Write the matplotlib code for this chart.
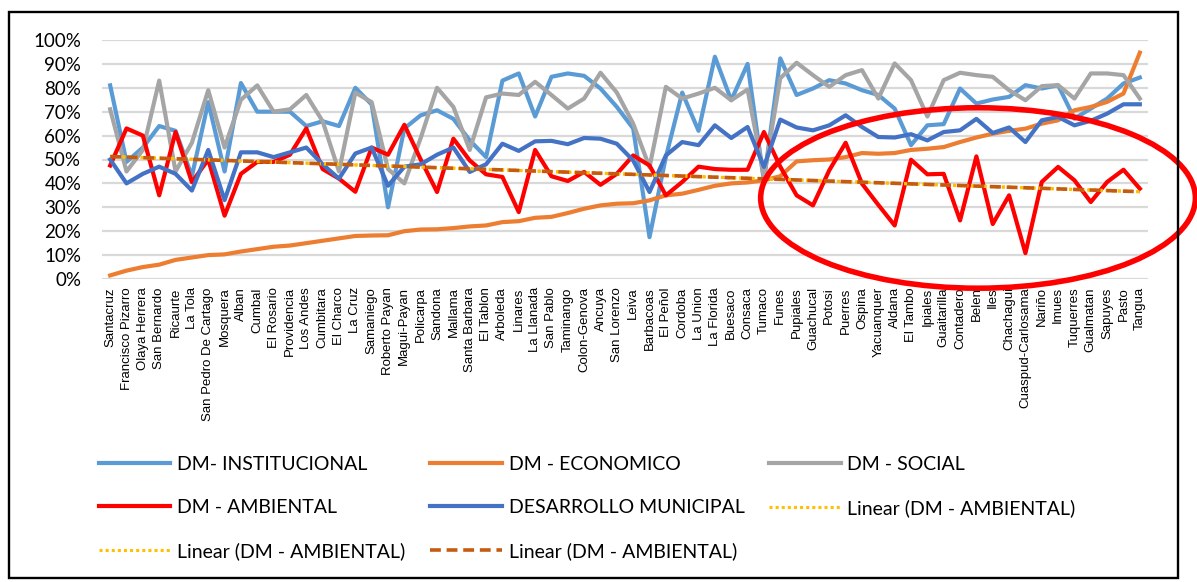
import numpy as np
import matplotlib.pyplot as plt
from matplotlib.patches import Ellipse, Rectangle
from matplotlib.ticker import PercentFormatter

municipios = ["Santacruz", "Francisco Pizarro", "Olaya Herrera", "San Bernardo", "Ricaurte",
              "La Tola", "San Pedro De Cartago", "Mosquera", "Alban", "Cumbal", "El Rosario",
              "Providencia", "Los Andes", "Cumbitara", "El Charco", "La Cruz", "Samaniego",
              "Roberto Payan", "Magui-Payan", "Policarpa", "Sandona", "Mallama", "Santa Barbara",
              "El Tablon", "Arboleda", "Linares", "La Llanada", "San Pablo", "Taminango",
              "Colon-Genova", "Ancuya", "San Lorenzo", "Leiva", "Barbacoas", "El Peñol",
              "Cordoba", "La Union", "La Florida", "Buesaco", "Consaca", "Tumaco", "Funes",
              "Pupiales", "Guachucal", "Potosi", "Puerres", "Ospina", "Yacuanquer", "Aldana",
              "El Tambo", "Ipiales", "Guaitarilla", "Contadero", "Belen", "Iles", "Chachagui",
              "Cuaspud-Carlosama", "Nariño", "Imues", "Tuquerres", "Gualmatan", "Sapuyes",
              "Pasto", "Tangua"]

# porcentajes por municipio
dm_institucional = [81, 49, 55, 64, 62, 43, 74, 45, 82, 70, 70, 70, 64, 66, 64, 80,
                    73, 30, 63, 68.5, 70.6, 67, 58, 51, 83, 86, 68, 84.6, 86, 85, 79.7, 72,
                    63, 17.5, 51, 78, 62, 93, 74.8, 90, 41, 92.3, 77, 79.7, 83.2, 81.8, 79, 77,
                    71.3, 56, 64.3, 64.8, 79.7, 73.4, 75.1, 76.2, 81.1, 79.7, 81.1, 67.1, 71.3, 75.5, 81.8, 84.3]
dm_economico = [1.5, 3.5, 5, 6, 8, 9, 10, 10.3, 11.5, 12.5, 13.5, 14, 15, 16, 17, 18,
                18.2, 18.3, 20, 20.7, 20.8, 21.3, 22, 22.4, 23.8, 24.2, 25.6, 26, 27.6, 29.4, 30.8, 31.5,
                31.7, 32.9, 35, 35.7, 37.3, 39, 40, 40.4, 41.3, 43, 49.2, 49.7, 50, 51, 52.7, 52.4,
                52.7, 54, 54.5, 55.2, 57.3, 59.2, 60.8, 62, 62.9, 65, 66.4, 70.6, 72, 74.1, 77.6, 94.7]
dm_social = [71, 45, 54, 83, 45, 57, 79, 55, 75, 81, 70, 71, 77, 66, 45, 78,
             74, 46, 40, 59, 80, 72, 54, 76, 77.6, 77, 82.5, 77, 71.3, 75.5, 86.3, 78,
             65, 46.8, 80.4, 75.5, 77.6, 80, 74.8, 79.3, 42.7, 84, 90.5, 85.3, 80.4, 85.3, 87.4, 75.5,
             90.2, 83.2, 68, 83.2, 86.3, 85.3, 84.6, 79, 74.8, 80.7, 81.1, 75.5, 86, 86, 85.3, 75.5]
dm_ambiental = [47.5, 63, 60, 35, 61.5, 40.5, 50, 26.5, 44, 49, 49, 52, 63, 46, 42, 36.5,
                55, 52, 64.5, 50, 36.4, 58.7, 49.6, 43.8, 42.7, 28, 54, 43, 41, 44.8, 39.4, 44,
                51.7, 47.5, 35, 40.6, 47, 46, 45.7, 45.7, 61.5, 47, 35, 30.8, 45.5, 57, 39.9, 31,
                22.4, 49.9, 43.8, 44, 24.5, 51.3, 23, 35, 10.8, 40.6, 46.9, 41.3, 32.2, 40.6, 45.7, 37.8]
desarrollo_municipal = [50, 40, 44, 47, 44, 37, 54, 33, 53, 53, 51, 53, 55, 48, 42, 52.5,
                        55, 39, 47, 48, 52, 55, 44.8, 48, 56.6, 53.6, 57.6, 57.8, 56.4, 59, 58.7, 56.6,
                        49.6, 36.4, 51.7, 57.3, 56, 64.3, 59, 63.6, 46.9, 66.7, 63.4, 62.2, 64.3, 68.5, 63.6, 59.4,
                        59.2, 60.6, 58, 61.5, 62.2, 67, 61.1, 63.4, 57.3, 66.4, 67.8, 64.3, 66.2, 69.2, 73.1, 73.1]

x = np.arange(len(municipios))

fig = plt.figure(figsize=(11.97, 5.82), dpi=100)
ax = fig.add_axes([102 / 1197, 1 - 279 / 582, 1046 / 1197, 239 / 582])

lw = 3.0
l_inst, = ax.plot(x, dm_institucional, color="#5B9BD5", lw=lw, label="DM- INSTITUCIONAL")
l_eco, = ax.plot(x, dm_economico, color="#ED7D31", lw=lw, label="DM - ECONOMICO")
l_soc, = ax.plot(x, dm_social, color="#A5A5A5", lw=lw, label="DM - SOCIAL")
l_amb, = ax.plot(x, dm_ambiental, color="#FF0000", lw=lw, label="DM - AMBIENTAL")
l_des, = ax.plot(x, desarrollo_municipal, color="#4472C4", lw=lw, label="DESARROLLO MUNICIPAL")

# tendencia lineal de la dimension ambiental
m, b = np.polyfit(x, dm_ambiental, 1)
tend = m * x + b
t1, = ax.plot(x, tend, color="#FFC000", lw=2.2, ls=(0, (1, 1)), label="Linear (DM - AMBIENTAL)")
t2, = ax.plot(x, tend, color="#FFC000", lw=2.2, ls=(0, (1, 1)), label="Linear (DM - AMBIENTAL)")
t3, = ax.plot(x, tend, color="#C55A11", lw=2.6, ls=(0, (3, 1.6)), label="Linear (DM - AMBIENTAL)")

ax.set_xlim(-0.5, len(municipios) - 0.5)
ax.set_ylim(0, 100)
ax.set_yticks(np.arange(0, 101, 10))
ax.yaxis.set_major_formatter(PercentFormatter(decimals=0))
ax.grid(axis="y", color="#D9D9D9", lw=1.6)
ax.set_axisbelow(True)
for s in ax.spines.values():
    s.set_visible(False)
ax.set_xticks(x)
ax.set_xticklabels(municipios, rotation=90, fontsize=9.5, family="Liberation Sans")
ax.tick_params(axis="x", length=0, pad=6)
ax.tick_params(axis="y", length=0, pad=15, labelsize=13.5)
for t in ax.get_yticklabels():
    t.set_family("Lato")

# zona resaltada
ell = Ellipse((53.1, 33.9), 26.6, 75.5, fill=False, edgecolor="#FF0000", lw=4.0, clip_on=False, zorder=5)
ax.add_patch(ell)

handles = [l_inst, l_amb, t2, l_eco, l_des, t3, l_soc, t1]
fig.legend(handles=handles, labels=[h.get_label() for h in handles], ncol=3,
           loc="upper left", bbox_to_anchor=(81 / 1197, 1 - 438 / 582), frameon=False,
           prop={"family": "Lato", "size": 14}, handlelength=3.7, handletextpad=0.35,
           columnspacing=1.25, labelspacing=1.36)

fig.add_artist(Rectangle((9 / 1197, 4 / 582), 1169 / 1197, 566 / 582, fill=False,
                         edgecolor="black", lw=1.7, transform=fig.transFigure))

fig.savefig("out.png", dpi=100)
